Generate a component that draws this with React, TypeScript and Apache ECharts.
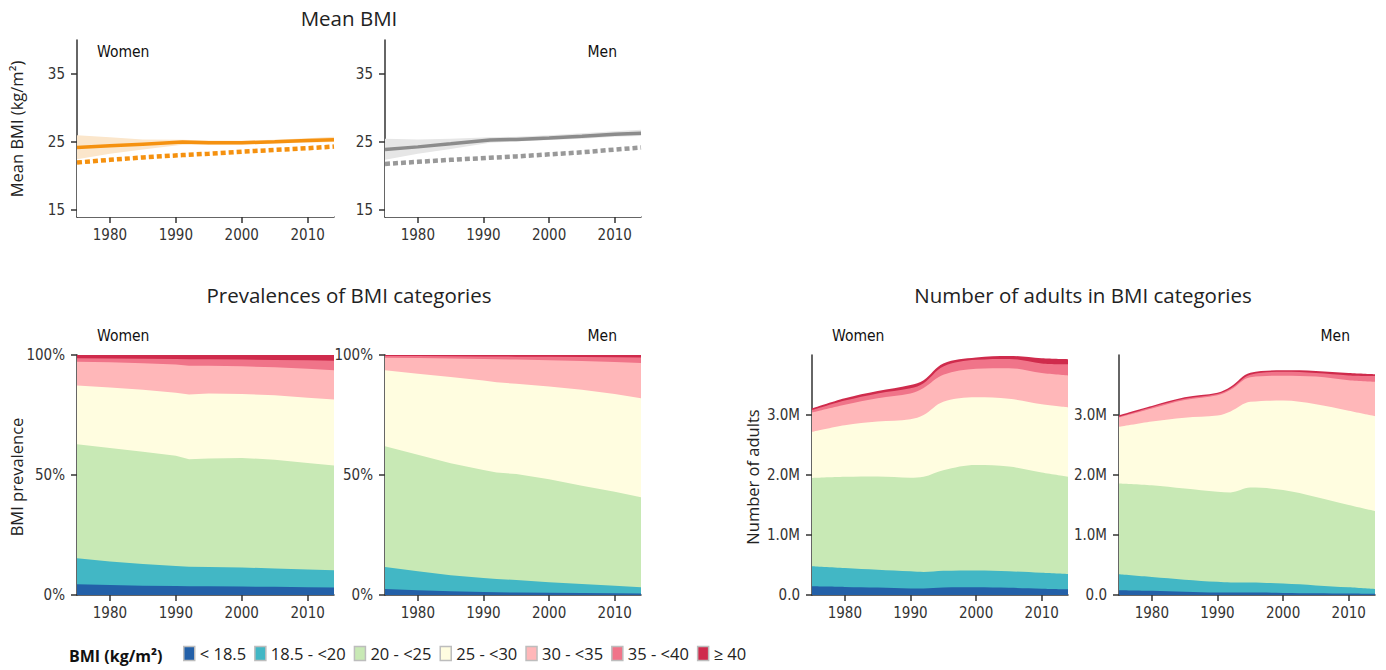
import React, { useEffect, useRef } from "react";
import * as echarts from "echarts";

// ---------- DATA ----------
const MEAN_YEARS = [1975, 1980, 1985, 1991, 1995, 2000, 2005, 2010, 2014];
const womenMean = [24.2, 24.45, 24.7, 25.0, 24.9, 24.9, 25.05, 25.25, 25.35];
const womenMeanDotted = [22.0, 22.4, 22.75, 23.1, 23.3, 23.6, 23.85, 24.1, 24.35];
const womenMeanLow = [22.5, 23.3, 23.9, 24.6, 24.6, 24.6, 24.8, 24.9, 25.0];
const womenMeanHigh = [26.0, 25.7, 25.4, 25.35, 25.25, 25.2, 25.35, 25.55, 25.8];
const menMean = [23.9, 24.3, 24.75, 25.3, 25.4, 25.6, 25.85, 26.15, 26.3];
const menMeanDotted = [21.8, 22.1, 22.4, 22.7, 22.9, 23.2, 23.5, 23.9, 24.2];
const menMeanLow = [22.4, 23.3, 24.0, 24.9, 25.1, 25.3, 25.5, 25.8, 25.9];
const menMeanHigh = [25.5, 25.4, 25.5, 25.7, 25.8, 26.0, 26.3, 26.6, 26.8];

const CAT_YEARS = [1975, 1980, 1985, 1990, 1992, 1995, 2000, 2005, 2010, 2014];
const CATEGORIES = ["< 18.5", "18.5 - <20", "20 - <25", "25 - <30", "30 - <35", "35 - <40", "\u2265 40"];
const CAT_COLORS = ["#2360a8", "#42b7c5", "#c8e9b5", "#fffde0", "#ffb7b9", "#f07489", "#cf2b4c"];

// prevalence (%) per category
const womenPrev = [
  [4.5, 4.2, 3.9, 3.7, 3.6, 3.6, 3.5, 3.4, 3.2, 3.1],
  [10.8, 9.8, 9.0, 8.4, 8.2, 8.1, 8.0, 7.6, 7.4, 7.2],
  [47.5, 47.2, 46.8, 45.9, 44.8, 45.2, 45.6, 45.4, 44.4, 43.7],
  [24.5, 25.3, 25.8, 26.3, 26.9, 27.1, 26.7, 26.8, 27.2, 27.5],
  [9.9, 10.5, 11.1, 11.7, 12.0, 11.5, 11.5, 11.7, 12.1, 12.1],
  [1.4, 1.5, 1.8, 2.3, 2.7, 2.7, 2.8, 3.0, 3.5, 4.0],
  [1.4, 1.5, 1.6, 1.7, 1.8, 1.8, 1.9, 2.1, 2.2, 2.4],
];
const menPrev = [
  [2.5, 2.0, 1.6, 1.2, 1.1, 1.0, 0.9, 0.8, 0.7, 0.6],
  [9.2, 7.9, 6.6, 5.9, 5.6, 5.2, 4.4, 3.8, 3.2, 2.6],
  [50.3, 48.5, 46.7, 45.0, 44.3, 44.2, 42.9, 40.9, 39.1, 37.5],
  [31.6, 33.8, 35.9, 37.3, 37.6, 37.6, 38.7, 40.0, 40.7, 41.3],
  [5.3, 6.5, 7.7, 8.9, 9.6, 10.1, 10.9, 12.0, 13.4, 14.7],
  [0.7, 0.9, 1.0, 1.1, 1.2, 1.2, 1.5, 1.7, 2.0, 2.3],
  [0.4, 0.4, 0.5, 0.6, 0.6, 0.7, 0.7, 0.8, 0.9, 1.0],
];

// number of adults (millions) per category
const womenNum = [
  [0.145, 0.135, 0.125, 0.11, 0.11, 0.125, 0.128, 0.12, 0.105, 0.095],
  [0.335, 0.315, 0.295, 0.285, 0.275, 0.28, 0.282, 0.275, 0.265, 0.255],
  [1.47, 1.52, 1.555, 1.56, 1.585, 1.675, 1.755, 1.745, 1.67, 1.62],
  [0.77, 0.86, 0.915, 0.975, 1.03, 1.14, 1.13, 1.13, 1.14, 1.16],
  [0.32, 0.34, 0.39, 0.43, 0.45, 0.45, 0.475, 0.51, 0.52, 0.53],
  [0.04, 0.07, 0.08, 0.085, 0.08, 0.14, 0.15, 0.155, 0.16, 0.185],
  [0.03, 0.04, 0.04, 0.055, 0.05, 0.05, 0.04, 0.05, 0.085, 0.085],
];
const menNum = [
  [0.08, 0.07, 0.055, 0.04, 0.04, 0.04, 0.035, 0.03, 0.025, 0.02],
  [0.265, 0.23, 0.201, 0.18, 0.17, 0.17, 0.155, 0.13, 0.103, 0.08],
  [1.515, 1.53, 1.519, 1.5, 1.5, 1.58, 1.56, 1.475, 1.372, 1.3],
  [0.94, 1.06, 1.18, 1.27, 1.35, 1.43, 1.49, 1.545, 1.57, 1.58],
  [0.16, 0.22, 0.295, 0.34, 0.36, 0.41, 0.415, 0.46, 0.51, 0.575],
  [0.01, 0.02, 0.02, 0.02, 0.02, 0.04, 0.065, 0.06, 0.08, 0.095],
  [0.025, 0.02, 0.025, 0.02, 0.03, 0.035, 0.025, 0.035, 0.04, 0.03],
];

const X_TICKS = [1980, 1990, 2000, 2010];
const MEAN_TICKS = [15, 25, 35];
const NUM_TICKS = [0, 1, 2, 3];

// ---------- STYLE ----------
const F = "'Open Sans', sans-serif";
const CONDENSED = "'DejaVu Sans Condensed', sans-serif";
const AX = "#333";

const GRIDS = [
  { left: 77, top: 40, width: 257, height: 177 },
  { left: 385, top: 40, width: 256, height: 177 },
  { left: 77, top: 355, width: 257, height: 240 },
  { left: 385, top: 355, width: 256, height: 240 },
  { left: 812, top: 355, width: 256, height: 240 },
  { left: 1119, top: 355, width: 256, height: 240 },
];

const pairs = (xs: number[], ys: number[]) => xs.map((x, i) => [x, ys[i]]);

// cumulative table built from per-category values (for drawing layered areas)
const cumulate = (values: number[][]) => {
  const out: number[][] = [];
  values.forEach((row, ci) => {
    out.push(row.map((v, i) => +((ci > 0 ? out[ci - 1][i] : 0) + v).toFixed(4)));
  });
  return out;
};

function buildOption() {
  const axisLine = { show: true, lineStyle: { color: AX, width: 1.5 } };
  const axisTickBase = { show: true, length: 6, lineStyle: { color: AX, width: 1.5 } };
  const labelBase = { color: "#333", fontSize: 15, fontFamily: CONDENSED };

  const xAxis = GRIDS.map((_, i) => ({
    type: "value",
    gridIndex: i,
    min: 1975,
    max: 2014,
    axisLine,
    axisTick: { ...axisTickBase, customValues: X_TICKS },
    axisLabel: { ...labelBase, margin: 10, customValues: X_TICKS, formatter: (v: number) => String(v) },
    splitLine: { show: false },
  }));

  const yAxis: any[] = [];
  [0, 1].forEach((i) =>
    yAxis.push({
      type: "value",
      gridIndex: i,
      min: 14,
      max: 40,
      axisLine,
      axisTick: { ...axisTickBase, customValues: MEAN_TICKS },
      axisLabel: { ...labelBase, margin: 12, customValues: MEAN_TICKS },
      splitLine: { show: false },
    })
  );
  [2, 3].forEach((i) =>
    yAxis.push({
      type: "value",
      gridIndex: i,
      min: 0,
      max: 100,
      interval: 50,
      axisLine,
      axisTick: axisTickBase,
      axisLabel: { ...labelBase, margin: 12, formatter: (v: number) => v + "%" },
      splitLine: { show: false },
    })
  );
  [4, 5].forEach((i) =>
    yAxis.push({
      type: "value",
      gridIndex: i,
      min: 0,
      max: 4,
      axisLine,
      axisTick: { ...axisTickBase, customValues: NUM_TICKS },
      axisLabel: {
        ...labelBase,
        margin: 12,
        customValues: NUM_TICKS,
        formatter: (v: number) => (v === 0 ? "0.0" : v.toFixed(1) + "M"),
      },
      splitLine: { show: false },
    })
  );

  const series: any[] = [];

  const meanPanel = (
    gi: number,
    solid: number[],
    dotted: number[],
    low: number[],
    high: number[],
    color: string,
    dotColor: string,
    band: string
  ) => {
    series.push({
      type: "line",
      xAxisIndex: gi,
      yAxisIndex: gi,
      data: pairs(MEAN_YEARS, high),
      showSymbol: false,
      lineStyle: { width: 0 },
      areaStyle: { color: band, opacity: 1, origin: "start" },
      silent: true,
      z: 1,
    });
    series.push({
      type: "line",
      xAxisIndex: gi,
      yAxisIndex: gi,
      data: pairs(MEAN_YEARS, low),
      showSymbol: false,
      lineStyle: { width: 0 },
      areaStyle: { color: "#ffffff", opacity: 1, origin: "start" },
      silent: true,
      z: 1,
    });
    series.push({
      type: "line",
      xAxisIndex: gi,
      yAxisIndex: gi,
      data: pairs(MEAN_YEARS, dotted),
      showSymbol: false,
      lineStyle: { color: dotColor, width: 4.5, type: [5, 3] },
      z: 3,
    });
    series.push({
      type: "line",
      xAxisIndex: gi,
      yAxisIndex: gi,
      data: pairs(MEAN_YEARS, solid),
      showSymbol: false,
      lineStyle: { color, width: 3.5 },
      z: 4,
    });
  };
  meanPanel(0, womenMean, womenMeanDotted, womenMeanLow, womenMeanHigh, "#f5910f", "#f5910f", "#fbe6cb");
  meanPanel(1, menMean, menMeanDotted, menMeanLow, menMeanHigh, "#8c8c8c", "#999999", "#e6e6e6");

  const stackPanel = (gi: number, values: number[][], smooth: number | boolean) => {
    const cum = cumulate(values);
    for (let ci = cum.length - 1; ci >= 0; ci--) {
      series.push({
        name: CATEGORIES[ci],
        type: "line",
        xAxisIndex: gi,
        yAxisIndex: gi,
        data: pairs(CAT_YEARS, cum[ci]),
        smooth,
        showSymbol: false,
        itemStyle: { color: CAT_COLORS[ci] },
        lineStyle: { width: 0, color: CAT_COLORS[ci] },
        areaStyle: { color: CAT_COLORS[ci], opacity: 1, origin: "start" },
        z: 2,
      });
    }
  };
  stackPanel(2, womenPrev, false);
  stackPanel(3, menPrev, false);
  stackPanel(4, womenNum, 0.35);
  stackPanel(5, menNum, 0.35);

  const txt = (text: string, x: number, y: number, opts: any = {}) => ({
    type: "text",
    x,
    y,
    rotation: opts.rotation || 0,
    z: 100,
    style: {
      text,
      fill: opts.fill || "#222",
      font: opts.font || `16.5px ${F}`,
      textAlign: opts.align || "left",
      textVerticalAlign: "middle",
    },
  });

  const panelFont = `15.5px ${CONDENSED}`;
  const graphic = [
    txt("Mean BMI", 349, 18, { font: `20.5px ${F}`, align: "center" }),
    txt("Prevalences of BMI categories", 349, 295, { font: `20.5px ${F}`, align: "center" }),
    txt("Number of adults in BMI categories", 1083, 295, { font: `20.5px ${F}`, align: "center" }),
    txt("Mean BMI (kg/m\u00b2)", 16, 129, { rotation: Math.PI / 2, align: "center" }),
    txt("BMI prevalence", 16, 477, { rotation: Math.PI / 2, align: "center" }),
    txt("Number of adults", 752, 477, { rotation: Math.PI / 2, align: "center" }),
    txt("Women", 97, 52, { font: panelFont, fill: "#111" }),
    txt("Men", 617, 52, { font: panelFont, fill: "#111", align: "right" }),
    txt("Women", 97, 336, { font: panelFont, fill: "#111" }),
    txt("Men", 617, 336, { font: panelFont, fill: "#111", align: "right" }),
    txt("Women", 832, 336, { font: panelFont, fill: "#111" }),
    txt("Men", 1350, 336, { font: panelFont, fill: "#111", align: "right" }),
    txt("BMI (kg/m\u00b2)", 69, 656, { font: `bold 16px ${F}`, fill: "#111" }),
  ];

  return {
    animation: false,
    backgroundColor: "#ffffff",
    grid: GRIDS.map((g) => ({ ...g, containLabel: false })),
    xAxis,
    yAxis,
    series,
    graphic,
    legend: {
      data: CATEGORIES,
      left: 183,
      top: 645,
      padding: 0,
      orient: "horizontal",
      icon: "rect",
      itemWidth: 11,
      itemHeight: 14,
      itemGap: 8,
      selectedMode: false,
      itemStyle: { borderColor: "#bdbdbd", borderWidth: 1.5 },
      textStyle: { color: "#222", fontSize: 16.5, fontFamily: F },
    },
  };
}

export default function App() {
  const ref = useRef<HTMLDivElement>(null);
  useEffect(() => {
    if (!ref.current) return;
    const chart = echarts.init(ref.current, null, { renderer: "svg" });
    chart.setOption(buildOption() as any);
    return () => chart.dispose();
  }, []);
  return (
    <div
      ref={ref}
      style={{ position: "absolute", left: 0, top: 0, width: 1386, height: 670, background: "#fff" }}
    />
  );
}
